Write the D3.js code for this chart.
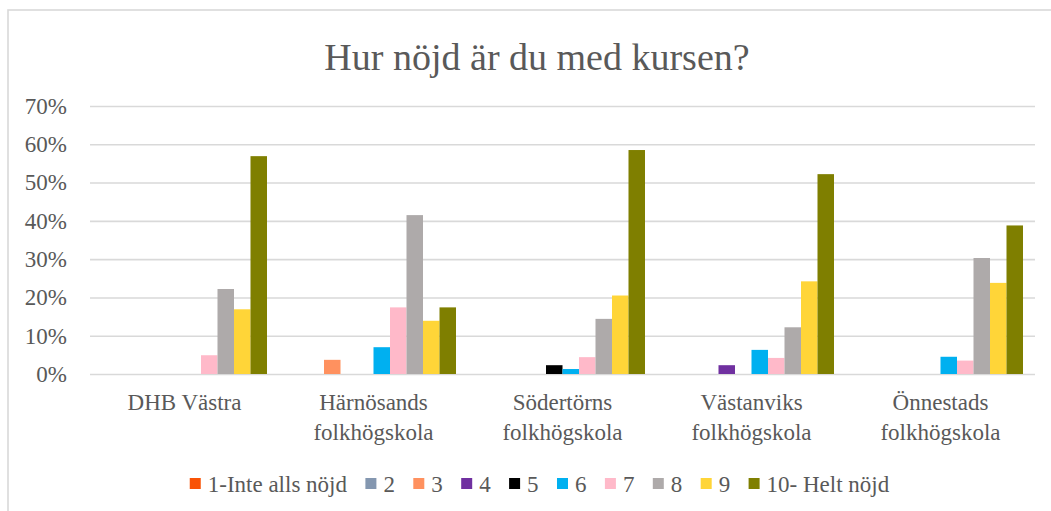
<!DOCTYPE html>
<html>
<head>
<meta charset="utf-8">
<script src="https://cdn.jsdelivr.net/npm/d3@7"></script>
<style>
  html, body { margin: 0; padding: 0; background: #ffffff; }
  svg { display: block; }
  text { font-family: "Liberation Serif", "Times New Roman", serif; fill: #595959; }
</style>
</head>
<body>
<svg id="chart" width="1051" height="511"></svg>
<script>
const title = "Hur nöjd är du med kursen?";
const categories = [
  ["DHB Västra"],
  ["Härnösands", "folkhögskola"],
  ["Södertörns", "folkhögskola"],
  ["Västanviks", "folkhögskola"],
  ["Önnestads", "folkhögskola"]
];
const seriesNames = ["1-Inte alls nöjd", "2", "3", "4", "5", "6", "7", "8", "9", "10- Helt nöjd"];
const seriesColors = ["#F95306", "#8497B0", "#FF915F", "#7030A0", "#000000", "#00B0F0", "#FFB9C9", "#AEAAAA", "#FFD538", "#7F7F00"];
// values in percent, one array per category, ordered as seriesNames
const valDHB = [0, 0, 0, 0, 0, 0, 4.9, 22.2, 16.9, 56.9];
const valHarnosand = [0, 0, 3.7, 0, 0, 7.0, 17.4, 41.5, 13.9, 17.4];
const valSodertorn = [0, 0, 0, 0, 2.3, 1.3, 4.4, 14.4, 20.5, 58.5];
const valVastanvik = [0, 0, 0, 2.3, 0, 6.3, 4.2, 12.2, 24.2, 52.2];
const valOnnestad = [0, 0, 0, 0, 0, 4.5, 3.5, 30.3, 23.8, 38.8];
const values = [valDHB, valHarnosand, valSodertorn, valVastanvik, valOnnestad];
const yTicks = [0, 0.1, 0.2, 0.3, 0.4, 0.5, 0.6, 0.7];

const svg = d3.select("#chart");

// chart frame
svg.append("rect")
  .attr("x", 8).attr("y", 10)
  .attr("width", 1100).attr("height", 600)
  .attr("fill", "#ffffff")
  .attr("stroke", "#d9d9d9")
  .attr("stroke-width", 1.6);

const plot = { left: 90, right: 1035, top: 106, bottom: 374 };
const catIdx = categories.map((c, i) => i);

const x0 = d3.scaleBand().domain(catIdx).range([plot.left, plot.right]).padding(0);
const bw = x0.bandwidth();
const x1 = d3.scaleBand().domain(d3.range(seriesNames.length))
  .range([bw * 0.0635, bw * 0.9365]).padding(0);
const y = d3.scaleLinear().domain([0, 0.7]).range([plot.bottom, plot.top]);

// title
svg.append("text")
  .attr("x", 537).attr("y", 70)
  .attr("text-anchor", "middle")
  .style("font-size", "38px")
  .text(title);

// gridlines + y axis labels
const yAxis = d3.axisLeft(y).tickValues(yTicks).tickFormat(d3.format(".0%"))
  .tickSize(-(plot.right - plot.left)).tickPadding(23);
const gy = svg.append("g").attr("transform", `translate(${plot.left},0)`).call(yAxis);
gy.select(".domain").remove();
gy.selectAll(".tick line").attr("stroke", "#d9d9d9").attr("stroke-width", 1.6);
gy.selectAll(".tick text")
  .style("font-size", "23px")
  .style("font-family", "'Liberation Serif', 'Times New Roman', serif")
  .attr("fill", "#595959");

// bars
const groups = svg.append("g").selectAll("g")
  .data(values)
  .join("g")
  .attr("transform", (d, i) => `translate(${x0(i)},0)`);

groups.selectAll("rect")
  .data(d => d.map((v, j) => ({ v: v / 100, j })))
  .join("rect")
  .attr("x", d => x1(d.j))
  .attr("width", x1.bandwidth())
  .attr("y", d => y(d.v))
  .attr("height", d => y(0) - y(d.v))
  .attr("fill", d => seriesColors[d.j]);

// category labels
const xl = svg.append("g");
categories.forEach((lines, i) => {
  const t = xl.append("text")
    .attr("x", x0(i) + bw / 2)
    .attr("y", 410)
    .attr("text-anchor", "middle")
    .style("font-size", "23px");
  lines.forEach((ln, k) => {
    t.append("tspan")
      .attr("x", x0(i) + bw / 2)
      .attr("dy", k === 0 ? 0 : 29.5)
      .text(ln);
  });
});

// legend
const legend = svg.append("g");
const sq = 11, sqGap = 7, itemGap = 18.4;
let cx = 0;
seriesNames.forEach((name, j) => {
  const g = legend.append("g");
  g.append("rect").attr("x", 0).attr("y", -sq / 2).attr("width", sq).attr("height", sq)
    .attr("fill", seriesColors[j]);
  const t = g.append("text").attr("x", sq + sqGap).attr("y", 8)
    .style("font-size", "23px").text(name);
  const w = t.node().getComputedTextLength();
  g.attr("transform", `translate(${cx},0)`);
  cx += sq + sqGap + w + itemGap;
});
const totalW = cx - itemGap;
legend.attr("transform", `translate(${539.5 - totalW / 2},483.5)`);
</script>
</body>
</html>
